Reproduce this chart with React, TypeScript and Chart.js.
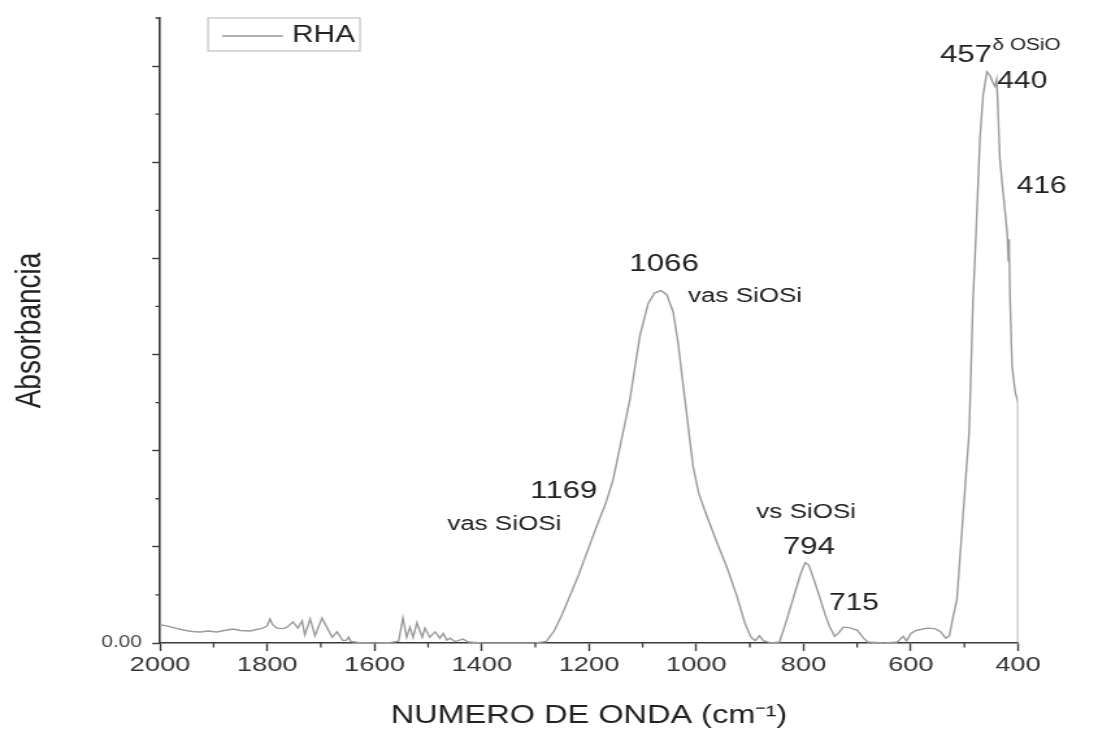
import React, { useEffect, useRef } from "react";
import { Chart, registerables } from "chart.js";

Chart.register(...registerables);

// ---- Data (RHA) ----
const wavenumbers = [
  2000, 1990, 1975, 1957, 1940, 1925, 1910, 1894, 1880, 1864, 1850, 1832, 1820, 1808, 1800, 1795, 1790, 1782, 1770, 1763,
  1752, 1743, 1735, 1730, 1720, 1711, 1698, 1689, 1679, 1670, 1659, 1652, 1648, 1644, 1630, 1600, 1570, 1555, 1547, 1540,
  1534, 1528, 1521, 1511, 1506, 1497, 1487, 1478, 1472, 1465, 1459, 1450, 1435, 1425, 1400, 1350, 1300, 1280, 1265, 1250,
  1235, 1220, 1200, 1185, 1169, 1155, 1140, 1124, 1105, 1090, 1078, 1066, 1055, 1043, 1034, 1025, 1015, 1006, 995, 980,
  960, 943, 925, 909, 898, 890, 882, 875, 860, 845, 835, 820, 805, 797, 790, 780, 770, 760, 751, 742,
  735, 726, 715, 700, 688, 680, 650, 625, 614, 608, 600, 590, 570, 555, 545, 535, 528, 521, 514, 504,
  491, 484, 478, 471, 465, 458, 452, 447, 443, 440, 438, 434, 429, 424, 420, 418, 417, 416, 415, 411,
  405, 402, 400, 400,
];
const absorbance = [
  0.38, 0.36, 0.32, 0.27, 0.24, 0.23, 0.25, 0.23, 0.26, 0.29, 0.26, 0.25, 0.28, 0.31, 0.36, 0.5, 0.38, 0.31, 0.3, 0.33,
  0.44, 0.31, 0.46, 0.17, 0.5, 0.15, 0.52, 0.33, 0.12, 0.23, 0.05, 0.06, 0.12, 0.03, 0.01, 0.0, 0.01, 0.04, 0.52, 0.12,
  0.33, 0.12, 0.42, 0.12, 0.31, 0.12, 0.23, 0.1, 0.2, 0.06, 0.1, 0.03, 0.08, 0.02, 0.0, 0.0, 0.0, 0.03, 0.25, 0.6,
  1.0, 1.4, 2.0, 2.45, 2.9, 3.4, 4.2, 5.05, 6.4, 7.05, 7.28, 7.33, 7.25, 6.88, 6.25, 5.42, 4.5, 3.67, 3.1, 2.63,
  2.05, 1.58, 1.0, 0.4, 0.12, 0.05, 0.15, 0.05, 0.0, 0.02, 0.35, 0.9, 1.45, 1.67, 1.62, 1.3, 0.96, 0.6, 0.33, 0.14,
  0.2, 0.33, 0.32, 0.27, 0.1, 0.02, 0.0, 0.02, 0.14, 0.04, 0.2, 0.26, 0.31, 0.3, 0.24, 0.1, 0.15, 0.55, 0.9, 2.42,
  4.4, 7.1, 8.6, 10.5, 11.4, 11.88, 11.8, 11.66, 11.58, 11.72, 11.3, 10.1, 9.5, 8.96, 8.5, 7.95, 8.4, 8.2, 7.2, 5.75,
  5.2, 5.1, 5.0, 0.0,
];

const seriesName = "RHA";
const xMajorTicks = [2000, 1800, 1600, 1400, 1200, 1000, 800, 600, 400];
const yZeroLabel = "0.00";
const xTitle = "NUMERO DE ONDA (cm\u207B\u00B9)";
const yTitle = "Absorbancia";

// peak annotation texts and where they sit (wavenumber, absorbance, font size)
const annotationTexts = ["457", "\u03B4 OSiO", "440", "416", "1066", "vas SiOSi", "1169", "vas SiOSi", "vs SiOSi", "794", "715"];
const annotationLayout = [
  { wn: 497, a: 12.23, size: 24 },
  { wn: 384, a: 12.42, size: 16 },
  { wn: 392, a: 11.67, size: 23 },
  { wn: 356, a: 9.5, size: 23 },
  { wn: 1060, a: 7.87, size: 24 },
  { wn: 909, a: 7.2, size: 20 },
  { wn: 1247, a: 3.15, size: 24 },
  { wn: 1358, a: 2.46, size: 20 },
  { wn: 795, a: 2.71, size: 20 },
  { wn: 790, a: 1.98, size: 24 },
  { wn: 706, a: 0.81, size: 23 },
];

// ---- Layout (the reference picture is horizontally stretched) ----
const OUT_W = 1098;
const OUT_H = 740;
const CW = 845;
const CH = 740;
const SX = OUT_W / CW;
const AREA_LEFT = 160 / SX;
const AREA_RIGHT = 1018 / SX;
const AREA_TOP = 18;
const AREA_BOTTOM = 643;

const FONT = '"Liberation Sans", Arial, Helvetica, sans-serif';
const AXIS = "#3a3a3a";
const TEXT = "#222222";
const LINE = "#9a9a9a";

const isMajorX = (v: number) => xMajorTicks.some((t) => Math.abs(t - v) < 1e-6);
const isMajorY = (v: number) => Math.abs(Math.round(v) % 2) === 0;

const decorPlugin = {
  id: "decor",
  afterDraw(chart: any) {
    const ctx = chart.ctx as CanvasRenderingContext2D;
    const xs = chart.scales.x;
    const ys = chart.scales.y;
    ctx.save();
    // minor ticks
    ctx.strokeStyle = AXIS;
    ctx.lineWidth = 1.3;
    ctx.beginPath();
    xs.ticks.forEach((t: any) => {
      if (!isMajorX(t.value)) {
        const px = xs.getPixelForValue(t.value);
        ctx.moveTo(px, xs.top);
        ctx.lineTo(px, xs.top + 4.5);
      }
    });
    ys.ticks.forEach((t: any) => {
      if (!isMajorY(t.value)) {
        const py = ys.getPixelForValue(t.value);
        ctx.moveTo(ys.right - 3.5, py);
        ctx.lineTo(ys.right, py);
      }
    });
    ctx.stroke();

    // legend
    const lx0 = 208 / SX;
    const lx1 = 360 / SX;
    const ly0 = 18;
    const ly1 = 51;
    ctx.strokeStyle = "#b4b4b4";
    ctx.lineWidth = 1;
    ctx.strokeRect(lx0, ly0, lx1 - lx0, ly1 - ly0);
    ctx.strokeStyle = LINE;
    ctx.lineWidth = 1.4;
    ctx.beginPath();
    ctx.moveTo(222 / SX, 36);
    ctx.lineTo(283 / SX, 36);
    ctx.stroke();
    ctx.fillStyle = TEXT;
    ctx.font = `23px ${FONT}`;
    ctx.textAlign = "left";
    ctx.textBaseline = "middle";
    ctx.fillText(seriesName, 292 / SX, 36);

    // peak annotations
    ctx.textAlign = "center";
    ctx.textBaseline = "middle";
    annotationTexts.forEach((txt, i) => {
      const L = annotationLayout[i];
      ctx.font = `${L.size}px ${FONT}`;
      ctx.fillText(txt, xs.getPixelForValue(L.wn), ys.getPixelForValue(L.a));
    });
    ctx.restore();
  },
};

export default function App() {
  const ref = useRef<HTMLCanvasElement | null>(null);

  useEffect(() => {
    const canvas = ref.current;
    if (!canvas) return;
    const points = wavenumbers.map((w, i) => ({ x: w, y: absorbance[i] }));
    const chart = new Chart(canvas, {
      type: "line",
      data: {
        datasets: [
          {
            label: seriesName,
            data: points,
            borderColor: LINE,
            borderWidth: 1.4,
            pointRadius: 0,
            tension: 0,
            fill: false,
          },
        ],
      },
      options: {
        responsive: false,
        animation: false,
        devicePixelRatio: 1,
        events: [],
        layout: {
          padding: { left: 0, top: AREA_TOP, right: CW - AREA_RIGHT, bottom: 0 },
        },
        plugins: {
          legend: { display: false },
          tooltip: { enabled: false },
          title: { display: false },
        },
        scales: {
          x: {
            type: "linear",
            min: 400,
            max: 2000,
            reverse: true,
            afterFit: (s: any) => {
              s.height = CH - AREA_BOTTOM;
            },
            border: { display: true, color: AXIS, width: 1.6 },
            grid: {
              drawOnChartArea: false,
              drawTicks: true,
              tickLength: 8,
              tickWidth: 1.4,
              tickColor: (c: any) => (c.tick && isMajorX(c.tick.value) ? AXIS : "rgba(0,0,0,0)"),
            },
            ticks: {
              stepSize: 100,
              autoSkip: false,
              maxRotation: 0,
              padding: 2,
              color: "#333333",
              font: { size: 21, family: FONT },
              callback: (v: any) => (isMajorX(Number(v)) ? String(v) : ""),
            },
            title: {
              display: true,
              text: xTitle,
              color: TEXT,
              font: { size: 25, family: FONT },
              padding: { top: 4, bottom: 9 },
            },
          },
          y: {
            type: "linear",
            min: 0,
            max: 13,
            afterFit: (s: any) => {
              s.width = AREA_LEFT;
            },
            border: { display: true, color: AXIS, width: 1.6 },
            grid: {
              drawOnChartArea: false,
              drawTicks: true,
              tickLength: 6,
              tickWidth: 1.4,
              tickColor: (c: any) => (c.tick && isMajorY(c.tick.value) ? AXIS : "rgba(0,0,0,0)"),
            },
            ticks: {
              stepSize: 1,
              autoSkip: false,
              padding: 8,
              color: "#444444",
              font: { size: 16, family: FONT },
              callback: (v: any) => (Math.abs(Number(v)) < 1e-9 ? yZeroLabel : ""),
            },
            title: {
              display: true,
              text: yTitle,
              color: TEXT,
              font: { size: 28, family: FONT },
              padding: { top: 6, bottom: 0 },
            },
          },
        },
      },
      plugins: [decorPlugin],
    } as any);
    return () => chart.destroy();
  }, []);

  return (
    <div
      style={{
        position: "fixed",
        left: 0,
        top: 0,
        width: OUT_W,
        height: OUT_H,
        background: "#ffffff",
        overflow: "hidden",
      }}
    >
      <canvas
        ref={ref}
        width={CW}
        height={CH}
        style={{ width: `${OUT_W}px`, height: `${OUT_H}px`, display: "block" }}
      />
    </div>
  );
}
